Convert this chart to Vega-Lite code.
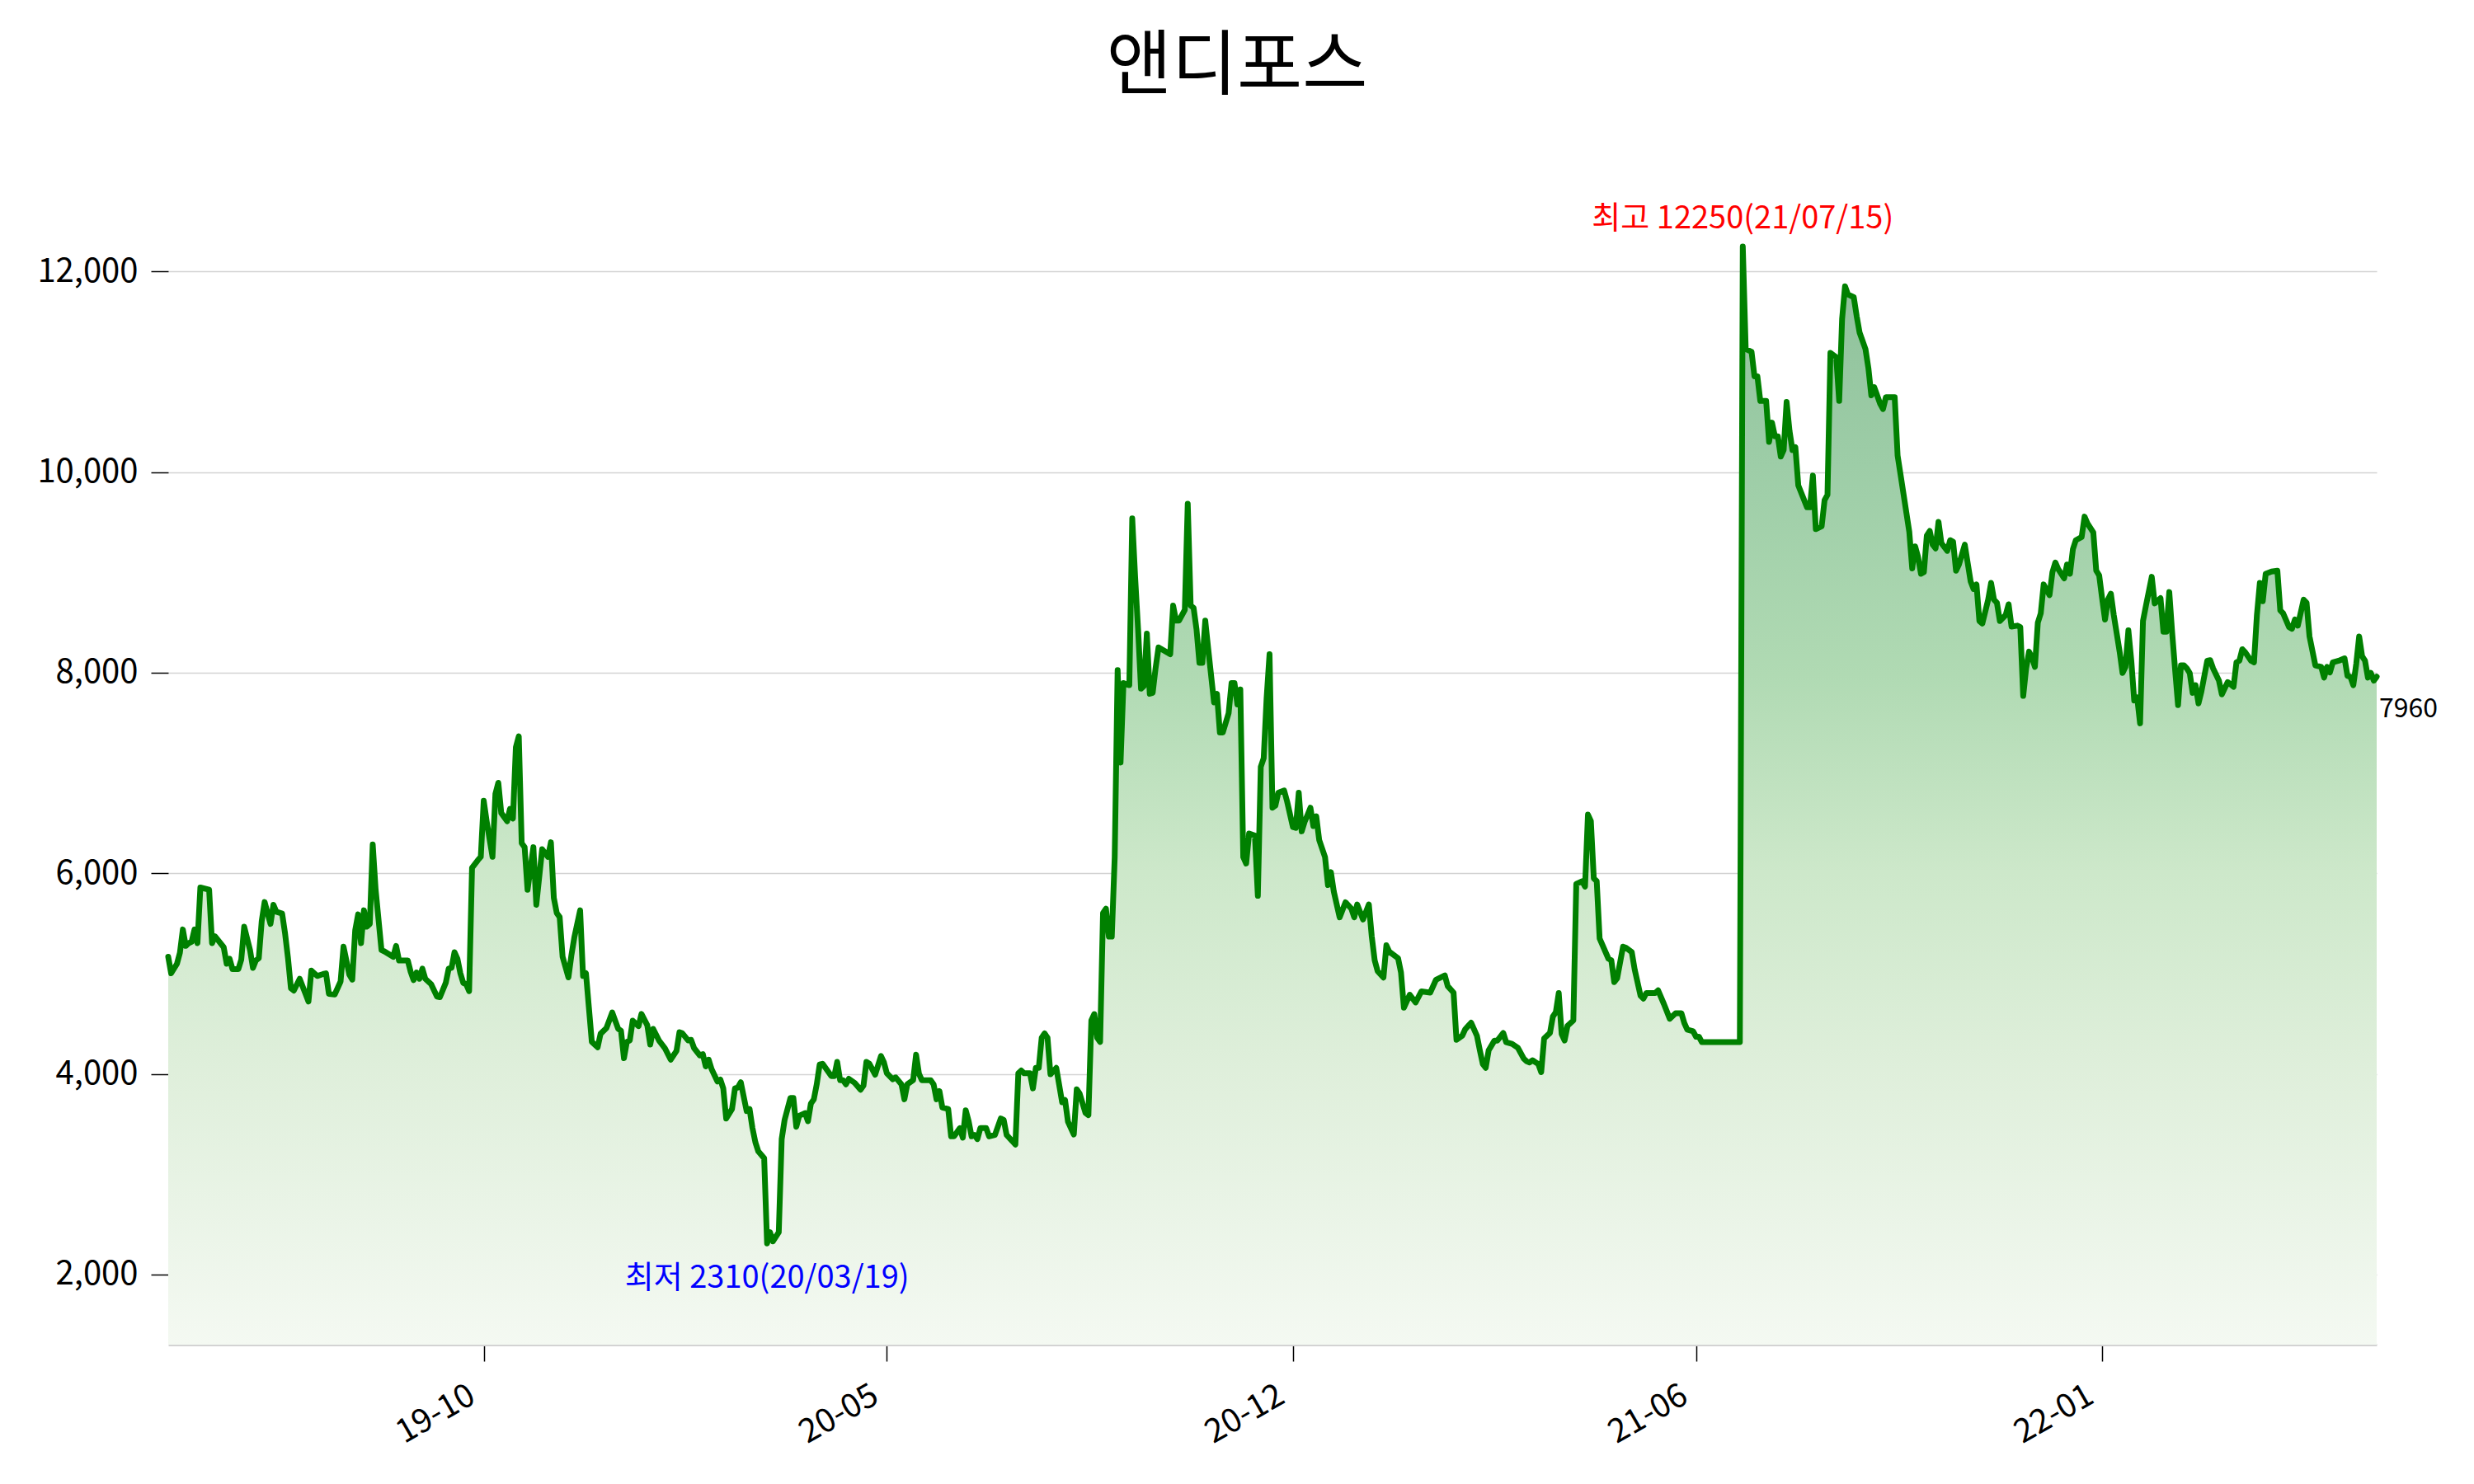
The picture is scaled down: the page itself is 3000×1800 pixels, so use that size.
{
 "$schema": "https://vega.github.io/schema/vega-lite/v6.json",
 "autosize": {"type": "none"},
 "width": 2678,
 "height": 1399,
 "padding": {"left": 204, "top": 232, "right": 118, "bottom": 169},
 "background": "white",
 "config": {"view": {"stroke": null}, "font": "Noto Sans CJK KR"},
 "title": {"text": "앤디포스", "font": "Noto Sans CJK KR", "fontSize": 86, "fontWeight": "normal", "color": "black", "anchor": "middle", "dx": -43, "baseline": "alphabetic", "offset": 38},
 "datasets": {
  "price": [
{"t":0,"close":5167},{"t":1,"close":5003},{"t":3,"close":5098},{"t":4,"close":5208},{"t":5,"close":5440},{"t":6,"close":5276},{"t":7,"close":5303},{"t":8,"close":5317},{"t":9,"close":5440},{"t":10,"close":5303},{"t":11,"close":5858},{"t":14,"close":5836},{"t":15,"close":5303},{"t":16,"close":5372},{"t":19,"close":5262},{"t":20,"close":5098},{"t":21,"close":5148},{"t":22,"close":5044},{"t":24,"close":5044},{"t":25,"close":5139},{"t":26,"close":5467},{"t":28,"close":5235},{"t":29,"close":5057},{"t":30,"close":5131},{"t":31,"close":5153},{"t":32,"close":5522},{"t":33,"close":5713},{"t":35,"close":5495},{"t":36,"close":5686},{"t":37,"close":5617},{"t":39,"close":5598},{"t":40,"close":5399},{"t":41,"close":5153},{"t":42,"close":4853},{"t":43,"close":4831},{"t":45,"close":4948},{"t":47,"close":4798},{"t":48,"close":4721},{"t":49,"close":5030},{"t":51,"close":4976},{"t":53,"close":4995},{"t":54,"close":5003},{"t":55,"close":4798},{"t":57,"close":4792},{"t":59,"close":4921},{"t":60,"close":5268},{"t":62,"close":4989},{"t":63,"close":4940},{"t":64,"close":5432},{"t":65,"close":5590},{"t":66,"close":5303},{"t":67,"close":5631},{"t":68,"close":5467},{"t":69,"close":5495},{"t":70,"close":6287},{"t":71,"close":5836},{"t":73,"close":5235},{"t":74,"close":5221},{"t":77,"close":5167},{"t":78,"close":5276},{"t":79,"close":5131},{"t":82,"close":5131},{"t":83,"close":5017},{"t":84,"close":4935},{"t":85,"close":5011},{"t":86,"close":4948},{"t":87,"close":5049},{"t":88,"close":4948},{"t":90,"close":4894},{"t":92,"close":4771},{"t":93,"close":4765},{"t":95,"close":4907},{"t":96,"close":5049},{"t":97,"close":5057},{"t":98,"close":5213},{"t":99,"close":5148},{"t":100,"close":5003},{"t":101,"close":4907},{"t":102,"close":4894},{"t":103,"close":4825},{"t":104,"close":6055},{"t":106,"close":6131},{"t":107,"close":6164},{"t":108,"close":6724},{"t":109,"close":6519},{"t":111,"close":6164},{"t":112,"close":6792},{"t":113,"close":6902},{"t":114,"close":6601},{"t":116,"close":6519},{"t":117,"close":6642},{"t":118,"close":6546},{"t":119,"close":7257},{"t":120,"close":7366},{"t":121,"close":6300},{"t":122,"close":6260},{"t":123,"close":5836},{"t":125,"close":6260},{"t":126,"close":5686},{"t":128,"close":6240},{"t":130,"close":6164},{"t":131,"close":6309},{"t":132,"close":5754},{"t":133,"close":5604},{"t":134,"close":5563},{"t":135,"close":5167},{"t":137,"close":4962},{"t":138,"close":5180},{"t":139,"close":5358},{"t":141,"close":5631},{"t":142,"close":4976},{"t":143,"close":5003},{"t":144,"close":4661},{"t":145,"close":4320},{"t":147,"close":4265},{"t":148,"close":4400},
{"t":150,"close":4456},{"t":152,"close":4612},{"t":154,"close":4451},{"t":155,"close":4429},{"t":156,"close":4156},{"t":157,"close":4320},{"t":158,"close":4333},{"t":159,"close":4530},{"t":161,"close":4476},{"t":162,"close":4598},{"t":164,"close":4484},{"t":165,"close":4292},{"t":166,"close":4448},{"t":168,"close":4333},{"t":170,"close":4257},{"t":172,"close":4142},{"t":174,"close":4230},{"t":175,"close":4415},{"t":176,"close":4404},{"t":178,"close":4333},{"t":179,"close":4339},{"t":180,"close":4257},{"t":182,"close":4183},{"t":183,"close":4197},{"t":184,"close":4074},{"t":185,"close":4142},{"t":186,"close":4047},{"t":188,"close":3924},{"t":189,"close":3943},{"t":190,"close":3855},{"t":191,"close":3555},{"t":193,"close":3650},{"t":194,"close":3855},{"t":195,"close":3864},{"t":196,"close":3916},{"t":198,"close":3629},{"t":199,"close":3650},{"t":200,"close":3459},{"t":201,"close":3317},{"t":202,"close":3227},{"t":204,"close":3159},{"t":205,"close":2310},{"t":206,"close":2421},{"t":207,"close":2330},{"t":209,"close":2421},{"t":210,"close":3350},{"t":211,"close":3541},{"t":213,"close":3760},{"t":214,"close":3760},{"t":215,"close":3473},{"t":216,"close":3582},{"t":218,"close":3609},{"t":219,"close":3528},{"t":220,"close":3705},{"t":221,"close":3746},{"t":222,"close":3896},{"t":223,"close":4093},{"t":224,"close":4101},{"t":227,"close":3978},{"t":228,"close":3978},{"t":229,"close":4120},{"t":230,"close":3937},{"t":231,"close":3937},{"t":232,"close":3896},{"t":233,"close":3951},{"t":235,"close":3910},{"t":237,"close":3842},{"t":238,"close":3883},{"t":239,"close":4120},{"t":240,"close":4101},{"t":242,"close":3992},{"t":244,"close":4178},{"t":245,"close":4115},{"t":246,"close":4006},{"t":248,"close":3946},{"t":249,"close":3965},{"t":251,"close":3896},{"t":252,"close":3746},{"t":253,"close":3896},{"t":255,"close":3937},{"t":256,"close":4191},{"t":257,"close":4000},{"t":258,"close":3937},{"t":261,"close":3937},{"t":262,"close":3896},{"t":263,"close":3746},{"t":264,"close":3828},{"t":265,"close":3664},{"t":267,"close":3650},{"t":268,"close":3377},{"t":269,"close":3377},{"t":271,"close":3459},{"t":272,"close":3364},{"t":273,"close":3637},{"t":274,"close":3528},{"t":275,"close":3377},{"t":276,"close":3391},{"t":277,"close":3350},{"t":278,"close":3459},{"t":280,"close":3459},{"t":281,"close":3377},{"t":283,"close":3391},{"t":285,"close":3555},{"t":286,"close":3541},{"t":287,"close":3391},{"t":289,"close":3328},{"t":290,"close":3295},{"t":291,"close":4006},{"t":292,"close":4033},{"t":293,"close":4006},{"t":295,"close":4006},{"t":296,"close":3855},{"t":297,"close":4060},{"t":298,"close":4060},
{"t":299,"close":4360},{"t":300,"close":4403},{"t":301,"close":4360},{"t":302,"close":3996},{"t":304,"close":4060},{"t":306,"close":3717},{"t":307,"close":3739},{"t":308,"close":3524},{"t":309,"close":3460},{"t":310,"close":3396},{"t":311,"close":3846},{"t":312,"close":3803},{"t":314,"close":3610},{"t":315,"close":3589},{"t":316,"close":4532},{"t":317,"close":4596},{"t":318,"close":4360},{"t":319,"close":4318},{"t":320,"close":5604},{"t":321,"close":5647},{"t":322,"close":5368},{"t":323,"close":5368},{"t":324,"close":6161},{"t":325,"close":8026},{"t":326,"close":7104},{"t":327,"close":7897},{"t":328,"close":7884},{"t":329,"close":7876},{"t":330,"close":9539},{"t":331,"close":8947},{"t":332,"close":8433},{"t":333,"close":7841},{"t":334,"close":7867},{"t":335,"close":8390},{"t":336,"close":7790},{"t":337,"close":7799},{"t":338,"close":8047},{"t":339,"close":8253},{"t":343,"close":8184},{"t":344,"close":8669},{"t":345,"close":8519},{"t":346,"close":8519},{"t":348,"close":8626},{"t":349,"close":9685},{"t":350,"close":8669},{"t":351,"close":8647},{"t":352,"close":8433},{"t":353,"close":8099},{"t":354,"close":8099},{"t":355,"close":8519},{"t":356,"close":8240},{"t":358,"close":7704},{"t":359,"close":7790},{"t":360,"close":7404},{"t":361,"close":7404},{"t":363,"close":7597},{"t":364,"close":7897},{"t":365,"close":7897},{"t":366,"close":7683},{"t":367,"close":7833},{"t":368,"close":6161},{"t":369,"close":6097},{"t":370,"close":6397},{"t":372,"close":6375},{"t":373,"close":5775},{"t":374,"close":7061},{"t":375,"close":7147},{"t":376,"close":7747},{"t":377,"close":8184},{"t":378,"close":6654},{"t":379,"close":6675},{"t":380,"close":6804},{"t":382,"close":6825},{"t":383,"close":6718},{"t":385,"close":6461},{"t":386,"close":6452},{"t":387,"close":6804},{"t":388,"close":6418},{"t":389,"close":6512},{"t":390,"close":6581},{"t":391,"close":6654},{"t":392,"close":6470},{"t":393,"close":6568},{"t":394,"close":6332},{"t":396,"close":6161},{"t":397,"close":5882},{"t":398,"close":6011},{"t":399,"close":5818},{"t":401,"close":5561},{"t":403,"close":5711},{"t":405,"close":5647},{"t":406,"close":5561},{"t":407,"close":5689},{"t":409,"close":5539},{"t":411,"close":5689},{"t":412,"close":5368},{"t":413,"close":5132},{"t":414,"close":5025},{"t":416,"close":4960},{"t":417,"close":5282},{"t":418,"close":5218},{"t":421,"close":5153},{"t":422,"close":5011},{"t":423,"close":4660},{"t":425,"close":4789},{"t":427,"close":4712},{"t":429,"close":4823},{"t":432,"close":4810},{"t":434,"close":4939},{"t":437,"close":4982},{"t":438,"close":4875},{"t":440,"close":4810},{"t":441,"close":4339},{"t":443,"close":4382},{"t":444,"close":4446},{"t":446,"close":4510},{"t":448,"close":4380},
{"t":449,"close":4234},{"t":450,"close":4098},{"t":451,"close":4060},{"t":452,"close":4234},{"t":454,"close":4332},{"t":455,"close":4332},{"t":457,"close":4408},{"t":458,"close":4316},{"t":460,"close":4300},{"t":462,"close":4261},{"t":464,"close":4153},{"t":465,"close":4125},{"t":466,"close":4114},{"t":467,"close":4136},{"t":469,"close":4098},{"t":470,"close":4017},{"t":471,"close":4354},{"t":473,"close":4408},{"t":474,"close":4572},{"t":475,"close":4615},{"t":476,"close":4806},{"t":477,"close":4396},{"t":478,"close":4332},{"t":479,"close":4479},{"t":480,"close":4506},{"t":481,"close":4533},{"t":482,"close":5894},{"t":484,"close":5921},{"t":485,"close":5867},{"t":486,"close":6585},{"t":487,"close":6520},{"t":488,"close":5949},{"t":489,"close":5921},{"t":490,"close":5350},{"t":493,"close":5149},{"t":494,"close":5132},{"t":495,"close":4915},{"t":496,"close":4953},{"t":498,"close":5268},{"t":499,"close":5258},{"t":501,"close":5214},{"t":502,"close":5040},{"t":504,"close":4779},{"t":505,"close":4751},{"t":506,"close":4806},{"t":509,"close":4806},{"t":510,"close":4833},{"t":512,"close":4697},{"t":514,"close":4550},{"t":516,"close":4604},{"t":518,"close":4604},{"t":519,"close":4506},{"t":520,"close":4441},{"t":522,"close":4424},{"t":523,"close":4370},{"t":524,"close":4370},{"t":525,"close":4316},{"t":538,"close":4316},{"t":539,"close":12250},{"t":540,"close":11227},{"t":542,"close":11200},{"t":543,"close":10955},{"t":544,"close":10955},{"t":545,"close":10710},{"t":547,"close":10710},{"t":548,"close":10302},{"t":549,"close":10493},{"t":550,"close":10357},{"t":551,"close":10357},{"t":552,"close":10155},{"t":553,"close":10220},{"t":554,"close":10699},{"t":555,"close":10411},{"t":556,"close":10220},{"t":557,"close":10248},{"t":558,"close":9867},{"t":561,"close":9649},{"t":562,"close":9649},{"t":563,"close":9965},{"t":564,"close":9431},{"t":566,"close":9459},{"t":567,"close":9720},{"t":568,"close":9774},{"t":569,"close":11189},{"t":571,"close":11146},{"t":572,"close":10710},{"t":573,"close":11527},{"t":574,"close":11853},{"t":575,"close":11771},{"t":577,"close":11744},{"t":578,"close":11554},{"t":579,"close":11390},{"t":581,"close":11227},{"t":582,"close":11037},{"t":583,"close":10765},{"t":584,"close":10847},{"t":586,"close":10683},{"t":587,"close":10629},{"t":588,"close":10748},{"t":591,"close":10748},{"t":592,"close":10166},{"t":593,"close":9976},{"t":596,"close":9404},{"t":597,"close":9040},
{"t":598,"close":9260},{"t":599,"close":9154},{"t":600,"close":8986},{"t":601,"close":9002},{"t":602,"close":9367},{"t":603,"close":9413},{"t":604,"close":9276},{"t":605,"close":9239},{"t":606,"close":9504},{"t":607,"close":9291},{"t":609,"close":9215},{"t":610,"close":9321},{"t":611,"close":9306},{"t":612,"close":9017},{"t":613,"close":9078},{"t":615,"close":9276},{"t":617,"close":8910},{"t":618,"close":8834},{"t":619,"close":8880},{"t":620,"close":8515},{"t":621,"close":8490},{"t":623,"close":8728},{"t":624,"close":8895},{"t":625,"close":8728},{"t":626,"close":8697},{"t":627,"close":8515},{"t":629,"close":8575},{"t":630,"close":8682},{"t":631,"close":8460},{"t":633,"close":8469},{"t":634,"close":8454},{"t":635,"close":7769},{"t":636,"close":8043},{"t":637,"close":8210},{"t":638,"close":8149},{"t":639,"close":8058},{"t":640,"close":8499},{"t":641,"close":8591},{"t":642,"close":8880},{"t":644,"close":8773},{"t":645,"close":9002},{"t":646,"close":9099},{"t":647,"close":9032},{"t":649,"close":8941},{"t":650,"close":9078},{"t":651,"close":8986},{"t":652,"close":9230},{"t":653,"close":9321},{"t":655,"close":9352},{"t":656,"close":9556},{"t":657,"close":9489},{"t":659,"close":9397},{"t":660,"close":9017},{"t":661,"close":8971},{"t":662,"close":8743},{"t":663,"close":8530},{"t":664,"close":8728},{"t":665,"close":8788},{"t":666,"close":8575},{"t":668,"close":8210},{"t":669,"close":7997},{"t":670,"close":8058},{"t":671,"close":8423},{"t":672,"close":8119},{"t":673,"close":7723},{"t":674,"close":7753},{"t":675,"close":7495},{"t":676,"close":8515},{"t":677,"close":8667},{"t":679,"close":8956},{"t":680,"close":8691},{"t":682,"close":8743},{"t":683,"close":8408},{"t":684,"close":8408},{"t":685,"close":8804},{"t":686,"close":8393},{"t":687,"close":8027},{"t":688,"close":7677},{"t":689,"close":8073},{"t":690,"close":8073},{"t":691,"close":8043},{"t":692,"close":7997},{"t":693,"close":7799},{"t":694,"close":7875},{"t":695,"close":7693},{"t":696,"close":7814},{"t":698,"close":8119},{"t":699,"close":8125},{"t":700,"close":8043},{"t":702,"close":7921},{"t":703,"close":7784},{"t":705,"close":7906},{"t":707,"close":7860},{"t":708,"close":8104},{"t":709,"close":8119},{"t":710,"close":8234},{"t":711,"close":8204},{"t":713,"close":8119},{"t":714,"close":8104},{"t":715,"close":8575},{"t":716,"close":8895},{"t":717,"close":8712},{"t":718,"close":8986},{"t":720,"close":9008},{"t":722,"close":9017},{"t":723,"close":8621},{"t":724,"close":8591},{"t":726,"close":8454},{"t":727,"close":8438},{"t":728,"close":8530},{"t":729,"close":8469},{"t":731,"close":8728},{"t":732,"close":8697},{"t":733,"close":8362},{"t":735,"close":8073},{"t":737,"close":8058},{"t":738,"close":7951},{"t":739,"close":8058},{"t":740,"close":8003},{"t":741,"close":8104},{"t":743,"close":8119},{"t":745,"close":8143},{"t":746,"close":7967},{"t":747,"close":7960},{"t":748,"close":7875},{"t":749,"close":8088},{"t":750,"close":8362},{"t":751,"close":8165},{"t":752,"close":8119},{"t":753,"close":7951},{"t":754,"close":7997},{"t":755,"close":7921},{"t":756,"close":7960}
  ],
  "notes": [
   {"t": 539, "close": 12250, "kind": "max", "label": "최고 12250(21/07/15)"},
   {"t": 205, "close": 2310, "kind": "min", "label": "최저 2310(20/03/19)"},
   {"t": 756, "close": 7960, "kind": "last", "label": "7960"}
  ]
 },
 "encoding": {
  "x": {"field": "t", "type": "quantitative",
        "scale": {"domain": [0, 756], "nice": false, "zero": false},
        "axis": {"values": [108, 246, 385, 523, 662],
                 "labelExpr": "datum.value == 108 ? '19-10' : datum.value == 246 ? '20-05' : datum.value == 385 ? '20-12' : datum.value == 523 ? '21-06' : '22-01'",
                 "labelAngle": -30, "labelAlign": "right", "labelBaseline": "top",
                 "labelFontSize": 40, "labelColor": "black", "labelFont": "Noto Sans CJK KR",
                 "labelPadding": 21, "labelOffset": -24, "labelOverlap": false, "labelFlush": false, "labelBound": false,
                 "tickColor": "black", "tickSize": 20, "tickWidth": 1.5,
                 "domainColor": "#d3d3d3", "domainWidth": 3, "grid": false, "title": null}},
  "y": {"field": "close", "type": "quantitative",
        "scale": {"domain": [1300, 12800], "nice": false, "zero": false},
        "axis": {"values": [2000, 4000, 6000, 8000, 10000, 12000], "format": ",d",
                 "labelFontSize": 40, "labelColor": "black", "labelFont": "Noto Sans CJK KR",
                 "labelPadding": 16, "tickColor": "black", "tickSize": 21, "tickWidth": 1.5,
                 "domain": false, "grid": true, "gridColor": "#d3d3d3", "gridWidth": 1.5, "title": null}}
 },
 "layer": [
  {"data": {"name": "price"},
   "mark": {"type": "area", "color": {"x1": 0, "y1": 1, "x2": 0, "y2": 0, "gradient": "linear",
     "stops": [{"offset": 0, "color": "#f4f9f2"}, {"offset": 0.25, "color": "#dfefdb"}, {"offset": 0.43, "color": "#cde8ca"}, {"offset": 0.61, "color": "#b0dab3"}, {"offset": 0.8, "color": "#9dcda7"}, {"offset": 1, "color": "#8dbf99"}]}},
   "encoding": {"y2": {"datum": 1300}}},
  {"data": {"name": "price"},
   "mark": {"type": "line", "color": "#008000", "strokeWidth": 7, "strokeJoin": "round", "strokeCap": "round"}},
  {"data": {"name": "notes"}, "transform": [{"filter": "datum.kind == 'max'"}],
   "mark": {"type": "text", "color": "red", "fontSize": 38, "font": "Noto Sans CJK KR", "align": "center", "baseline": "bottom", "dy": -14},
   "encoding": {"text": {"field": "label"}}},
  {"data": {"name": "notes"}, "transform": [{"filter": "datum.kind == 'min'"}],
   "mark": {"type": "text", "color": "blue", "fontSize": 38, "font": "Noto Sans CJK KR", "align": "center", "baseline": "top", "dy": 24},
   "encoding": {"text": {"field": "label"}}},
  {"data": {"name": "notes"}, "transform": [{"filter": "datum.kind == 'last'"}],
   "mark": {"type": "text", "color": "black", "fontSize": 32, "font": "Noto Sans CJK KR", "align": "left", "baseline": "top", "dx": 3, "dy": 24},
   "encoding": {"text": {"field": "label"}}}
 ]
}
